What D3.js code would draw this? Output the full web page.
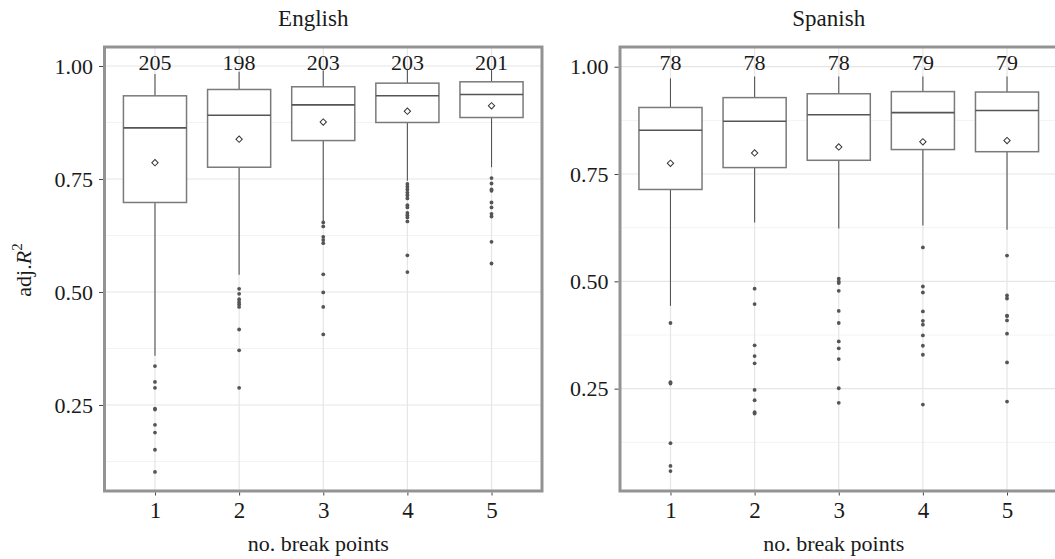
<!DOCTYPE html>
<html>
<head>
<meta charset="utf-8">
<script src="https://cdn.jsdelivr.net/npm/d3@7"></script>
<style>
  body { margin: 0; background: #fff; }
  text { font-family: "Liberation Serif", "DejaVu Serif", serif; fill: #1a1a1a; }
</style>
</head>
<body>
<div id="chart"></div>
<script>
const categories = [1, 2, 3, 4, 5];

// English
const englishCounts = [205, 198, 203, 203, 201];
const englishLow = [0.359, 0.538, 0.657, 0.746, 0.776];
const englishQ1 = [0.698, 0.776, 0.835, 0.875, 0.886];
const englishMedian = [0.863, 0.891, 0.914, 0.934, 0.937];
const englishQ3 = [0.934, 0.948, 0.954, 0.962, 0.965];
const englishHigh = [0.982, 0.987, 0.990, 0.991, 0.991];
const englishMean = [0.786, 0.838, 0.876, 0.900, 0.912];
const englishOutliers = [
  [0.336, 0.301, 0.288, 0.242, 0.240, 0.206, 0.189, 0.151, 0.102],
  [0.507, 0.496, 0.484, 0.478, 0.473, 0.467, 0.417, 0.371, 0.288],
  [0.654, 0.645, 0.622, 0.615, 0.608, 0.539, 0.499, 0.467, 0.406],
  [0.739, 0.733, 0.727, 0.720, 0.714, 0.707, 0.692, 0.687, 0.675, 0.670, 0.665, 0.656, 0.581, 0.544],
  [0.752, 0.740, 0.727, 0.724, 0.698, 0.687, 0.673, 0.667, 0.611, 0.563]
];

// Spanish
const spanishCounts = [78, 78, 78, 79, 79];
const spanishLow = [0.443, 0.637, 0.623, 0.630, 0.620];
const spanishQ1 = [0.714, 0.765, 0.782, 0.807, 0.802];
const spanishMedian = [0.852, 0.873, 0.888, 0.893, 0.898];
const spanishQ3 = [0.905, 0.928, 0.937, 0.942, 0.941];
const spanishHigh = [0.973, 0.977, 0.977, 0.977, 0.977];
const spanishMean = [0.775, 0.799, 0.813, 0.825, 0.828];
const spanishOutliers = [
  [0.403, 0.265, 0.262, 0.123, 0.070, 0.058],
  [0.483, 0.447, 0.351, 0.326, 0.309, 0.247, 0.223, 0.195, 0.192],
  [0.506, 0.499, 0.496, 0.478, 0.431, 0.403, 0.360, 0.344, 0.319, 0.251, 0.217],
  [0.579, 0.488, 0.474, 0.430, 0.408, 0.399, 0.374, 0.350, 0.329, 0.213],
  [0.560, 0.467, 0.460, 0.420, 0.419, 0.409, 0.378, 0.311, 0.220]
];

const yTicks = [0.25, 0.5, 0.75, 1.0];
const yMinor = [0.125, 0.375, 0.625, 0.875];

const svgWidth = 1055;
const svgHeight = 559;
const plotTop = 47, plotBottom = 491;

const panels = [
  {
    title: "English", left: 104.5, right: 542, domain: [0.0597, 1.042],
    counts: englishCounts, low: englishLow, q1: englishQ1, median: englishMedian,
    q3: englishQ3, high: englishHigh, mean: englishMean, outliers: englishOutliers
  },
  {
    title: "Spanish", left: 620, right: 1057.5, domain: [0.0116, 1.0459],
    counts: spanishCounts, low: spanishLow, q1: spanishQ1, median: spanishMedian,
    q3: spanishQ3, high: spanishHigh, mean: spanishMean, outliers: spanishOutliers
  }
];

const svg = d3.select("#chart").append("svg")
  .attr("width", svgWidth)
  .attr("height", svgHeight);

panels.forEach((p) => {
  const x = d3.scalePoint().domain(categories).range([p.left, p.right]).padding(0.6);
  const y = d3.scaleLinear().domain(p.domain).range([plotBottom, plotTop]);
  const boxW = x.step() * 0.75;

  const g = svg.append("g");

  // grid
  g.selectAll(".minor").data(yMinor).enter().append("line")
    .attr("x1", p.left).attr("x2", p.right)
    .attr("y1", (d) => y(d)).attr("y2", (d) => y(d))
    .attr("stroke", "#f3f3f3").attr("stroke-width", 1);
  g.selectAll(".major").data(yTicks).enter().append("line")
    .attr("x1", p.left).attr("x2", p.right)
    .attr("y1", (d) => y(d)).attr("y2", (d) => y(d))
    .attr("stroke", "#e6e6e6").attr("stroke-width", 1.2);
  g.selectAll(".vgrid").data(categories).enter().append("line")
    .attr("x1", (d) => x(d)).attr("x2", (d) => x(d))
    .attr("y1", plotTop).attr("y2", plotBottom)
    .attr("stroke", "#e6e6e6").attr("stroke-width", 1.2);

  const idx = d3.range(categories.length);

  // whiskers
  g.selectAll(".wup").data(idx).enter().append("line")
    .attr("x1", (i) => x(categories[i])).attr("x2", (i) => x(categories[i]))
    .attr("y1", (i) => y(p.q3[i])).attr("y2", (i) => y(p.high[i]))
    .attr("stroke", "#555").attr("stroke-width", 1.1);
  g.selectAll(".wlo").data(idx).enter().append("line")
    .attr("x1", (i) => x(categories[i])).attr("x2", (i) => x(categories[i]))
    .attr("y1", (i) => y(p.q1[i])).attr("y2", (i) => y(p.low[i]))
    .attr("stroke", "#555").attr("stroke-width", 1.1);

  // boxes
  g.selectAll(".box").data(idx).enter().append("rect")
    .attr("x", (i) => x(categories[i]) - boxW / 2)
    .attr("width", boxW)
    .attr("y", (i) => y(p.q3[i]))
    .attr("height", (i) => y(p.q1[i]) - y(p.q3[i]))
    .attr("fill", "#fff").attr("stroke", "#7a7a7a").attr("stroke-width", 1.5);
  g.selectAll(".med").data(idx).enter().append("line")
    .attr("x1", (i) => x(categories[i]) - boxW / 2)
    .attr("x2", (i) => x(categories[i]) + boxW / 2)
    .attr("y1", (i) => y(p.median[i])).attr("y2", (i) => y(p.median[i]))
    .attr("stroke", "#555").attr("stroke-width", 1.6);

  // outliers
  idx.forEach((i) => {
    g.selectAll(".out" + i).data(p.outliers[i]).enter().append("circle")
      .attr("cx", x(categories[i]))
      .attr("cy", (d) => y(d))
      .attr("r", 1.9)
      .attr("fill", "#555");
  });

  // means
  g.selectAll(".mean").data(idx).enter().append("path")
    .attr("d", d3.symbol(d3.symbolSquare, 20))
    .attr("transform", (i) => `translate(${x(categories[i])},${y(p.mean[i])}) rotate(45)`)
    .attr("fill", "#fff").attr("stroke", "#333").attr("stroke-width", 1);

  // counts
  g.selectAll(".count").data(idx).enter().append("text")
    .attr("x", (i) => x(categories[i]))
    .attr("y", plotTop + 23)
    .attr("text-anchor", "middle")
    .attr("font-size", 22)
    .text((i) => p.counts[i]);

  // frame
  g.append("rect")
    .attr("x", p.left).attr("y", plotTop)
    .attr("width", p.right - p.left).attr("height", plotBottom - plotTop)
    .attr("fill", "none").attr("stroke", "#939393").attr("stroke-width", 3);

  // axes
  const yAxis = g.append("g")
    .attr("transform", `translate(${p.left - 1.5},0)`)
    .call(d3.axisLeft(y).tickValues(yTicks).tickFormat(d3.format(".2f")).tickSize(4).tickPadding(6));
  const xAxis = g.append("g")
    .attr("transform", `translate(0,${plotBottom + 1.5})`)
    .call(d3.axisBottom(x).tickSize(3).tickPadding(6));
  [yAxis, xAxis].forEach((a) => {
    a.select(".domain").remove();
    a.selectAll(".tick line").attr("stroke", "#444");
    a.selectAll(".tick text").attr("font-size", 22).attr("fill", "#1a1a1a")
      .attr("font-family", '"Liberation Serif", serif');
  });
  xAxis.selectAll(".tick text").attr("font-size", 23);

  // titles
  g.append("text")
    .attr("x", x(3) - 10)
    .attr("y", 26)
    .attr("text-anchor", "middle")
    .attr("font-size", 23)
    .text(p.title);

  g.append("text")
    .attr("x", x(3) - 5)
    .attr("y", 551)
    .attr("text-anchor", "middle")
    .attr("font-size", 22)
    .text("no. break points");
});

// y label
const ylab = svg.append("text")
  .attr("transform", "translate(31,270) rotate(-90)")
  .attr("text-anchor", "middle")
  .attr("font-size", 22);
ylab.append("tspan").text("adj.");
ylab.append("tspan").attr("font-style", "italic").text("R");
ylab.append("tspan").attr("font-size", 15).attr("dy", -9).text("2");
</script>
</body>
</html>
